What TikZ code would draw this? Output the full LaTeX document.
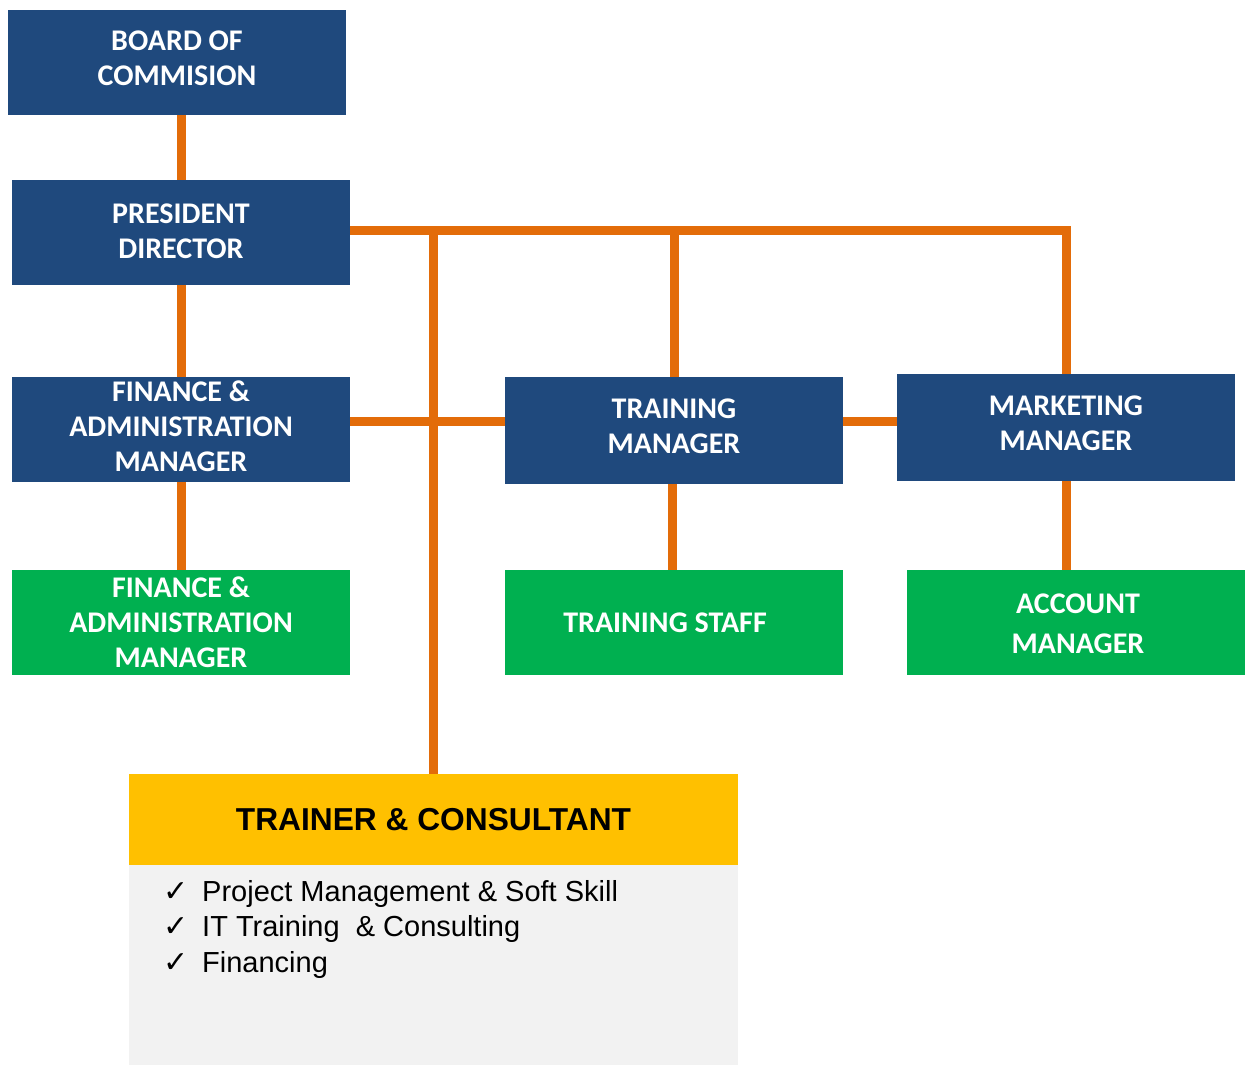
\documentclass[tikz,border=0pt]{standalone}
\usepackage{fontspec}
\setmainfont{Carlito}
\newfontfamily\arialf{Liberation Sans}
\newfontfamily\djv{DejaVu Sans}
\definecolor{cblue}{HTML}{1F497D}
\definecolor{cgreen}{HTML}{00B050}
\definecolor{corange}{HTML}{E36C09}
\definecolor{cyellow}{HTML}{FFC000}
\definecolor{cgray}{HTML}{F2F2F2}
\newcommand{\chk}{\makebox[39pt][l]{\djv\fontsize{30}{30}\selectfont ✓}}
\tikzset{
  box/.style={rectangle, inner sep=0pt, minimum width=338pt, minimum height=105pt},
  boxtext/.style={inner sep=0pt, text=white, align=center,
    font=\bfseries\fontsize{30}{35}\selectfont},
  bluebox/.style={box, fill=cblue},
  greenbox/.style={box, fill=cgreen},
  conn/.style={draw=corange, line width=9pt},
}
\begin{document}
\begin{tikzpicture}[x=1pt,y=-1pt]
\useasboundingbox (0,0) rectangle (1250,1065);
\node[bluebox] (board) at (177,62.5) {};
\node[boxtext, yshift=4pt] (boardt) at (board.center) {BOARD OF\\COMMISION};
\node[bluebox] (pres) at (181,232.5) {};
\node[boxtext, yshift=1pt] (prest) at (pres.center) {PRESIDENT\\DIRECTOR};
\node[bluebox] (fin) at (181,429.5) {};
\node[boxtext, yshift=3pt] (fint) at (fin.center) {FINANCE \&\\ADMINISTRATION\\MANAGER};
\node[greenbox] (fing) at (181,622.5) {};
\node[boxtext] (fingt) at (fing.center) {FINANCE \&\\ADMINISTRATION\\MANAGER};
\node[bluebox, minimum height=107pt] (trm) at (674,430.5) {};
\node[boxtext, yshift=4pt] (trmt) at (trm.center) {TRAINING\\MANAGER};
\node[greenbox] (trs) at (674,622.5) {};
\node[boxtext, xshift=-9pt] (trst) at (trs.center) {TRAINING STAFF};
\node[bluebox, minimum height=107pt] (mkt) at (1066,427.5) {};
\node[boxtext, yshift=4pt] (mktt) at (mkt.center) {MARKETING\\MANAGER};
\node[greenbox] (acc) at (1076,622.5) {};
\node[boxtext, xshift=2pt, yshift=-1pt] (acct) at (acc.center) {ACCOUNT\\[5pt]MANAGER};
\node[rectangle, fill=cgray, inner sep=0pt, minimum width=609pt, minimum height=200pt] (tcb) at (433.5,965) {};
\node[rectangle, fill=cyellow, inner sep=0pt, minimum width=609pt, minimum height=91pt,
  font=\arialf\bfseries\fontsize{31.7}{36}\selectfont] (tc) at (433.5,819.5) {TRAINER \& CONSULTANT};
\node[anchor=north west, inner sep=0pt, align=left, font=\arialf\fontsize{29}{35.5}\selectfont] (items) at (163,880)
  {\chk Project Management \& Soft Skill\\
   \chk IT Training\ \ \& Consulting\\
   \chk Financing};
\coordinate (jtop) at (0,230);
\coordinate (jmid) at (0,421);
\coordinate (xtc) at (433,230);
\coordinate (xtr) at (672,0);
\draw[conn] (pres.north |- board.south) -- (pres.north);
\draw[conn] (pres.south) -- (fin.north);
\draw[conn] (fin.south) -- (fing.north);
\draw[conn] (pres.east |- jtop) -- (mkt.north |- jtop) -- (mkt.north);
\draw[conn] (trm.north |- jtop) -- (trm.north);
\draw[conn] (xtc |- tc.north) -- (xtc);
\draw[conn] (fin.east |- jmid) -- (trm.west |- jmid);
\draw[conn] (trm.east |- jmid) -- (mkt.west |- jmid);
\draw[conn] (xtr |- trm.south) -- (xtr |- trs.north);
\draw[conn] (mkt.south) -- (mkt.south |- acc.north);
\end{tikzpicture}
\end{document}
